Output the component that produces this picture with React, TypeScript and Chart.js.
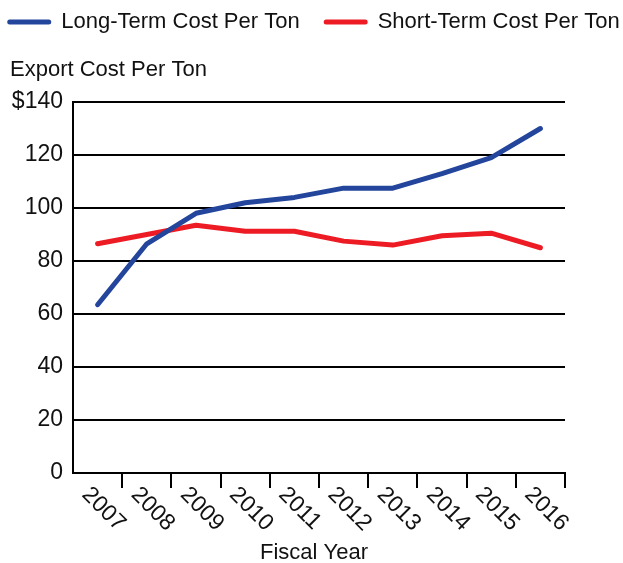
import React, { useEffect, useRef } from "react";
import { Chart, registerables } from "chart.js";

Chart.register(...registerables);

const years = ["2007", "2008", "2009", "2010", "2011", "2012", "2013", "2014", "2015", "2016"];
const longTerm = [63.5, 86.5, 98, 102, 104, 107.5, 107.5, 113, 119, 130];
const shortTerm = [86.5, 90, 93.5, 91.2, 91.2, 87.5, 86, 89.5, 90.5, 85];
const yTicks = [0, 20, 40, 60, 80, 100, 120, 140];

const FONT = "'Liberation Sans', Arial, sans-serif";
const BLUE = "#24459c";
const RED = "#ed1c24";

const customDraw = {
  id: "customDraw",
  afterDraw(chart: any) {
    const ctx = chart.ctx;
    ctx.save();
    // Legend
    ctx.font = `22px ${FONT}`;
    const lineW = 44;
    const gapText = 10;
    const gapItem = 24;
    const items = chart.data.datasets.map((d: any) => ({
      label: d.label,
      color: d.borderColor,
      w: lineW + gapText + ctx.measureText(d.label).width,
    }));
    const total = items.reduce((s: number, it: any) => s + it.w, 0) + gapItem * (items.length - 1);
    let x = 313.5 - total / 2;
    const ly = 22;
    items.forEach((it: any) => {
      ctx.strokeStyle = it.color;
      ctx.lineWidth = 5;
      ctx.lineCap = "round";
      ctx.beginPath();
      ctx.moveTo(x + 2.5, ly);
      ctx.lineTo(x + lineW - 2.5, ly);
      ctx.stroke();
      ctx.fillStyle = "#111";
      ctx.textAlign = "left";
      ctx.textBaseline = "middle";
      ctx.fillText(it.label, x + lineW + gapText, ly);
      x += it.w + gapItem;
    });
    // Y axis title
    ctx.fillText("Export Cost Per Ton", 10, 70);
    // X axis title
    ctx.textAlign = "center";
    ctx.fillText("Fiscal Year", 314, 553);
    // Rotated x labels
    const xs = chart.scales.x;
    ctx.font = `23px ${FONT}`;
    ctx.textAlign = "left";
    ctx.textBaseline = "top";
    years.forEach((lab, i) => {
      const px = xs.getPixelForValue(i);
      ctx.save();
      ctx.translate(px - 4, 483);
      ctx.rotate(Math.PI / 4);
      ctx.fillText(lab, 0, 0);
      ctx.restore();
    });
    ctx.restore();
  },
};

export default function App() {
  const ref = useRef<HTMLCanvasElement>(null);
  useEffect(() => {
    if (!ref.current) return;
    const chart = new Chart(ref.current, {
      type: "line",
      data: {
        labels: years,
        datasets: [
          {
            label: "Long-Term Cost Per Ton",
            data: longTerm,
            borderColor: BLUE,
            backgroundColor: BLUE,
            borderWidth: 5,
            borderCapStyle: "round",
            borderJoinStyle: "round",
            pointRadius: 0,
            tension: 0,
          },
          {
            label: "Short-Term Cost Per Ton",
            data: shortTerm,
            borderColor: RED,
            backgroundColor: RED,
            borderWidth: 5,
            borderCapStyle: "round",
            borderJoinStyle: "round",
            pointRadius: 0,
            tension: 0,
          },
        ],
      },
      options: {
        responsive: false,
        animation: false,
        layout: { padding: { top: 102, left: 10, right: 58, bottom: 0 } },
        plugins: {
          legend: { display: false },
          tooltip: { enabled: false },
          title: { display: false },
        },
        scales: {
          x: {
            offset: true,
            grid: {
              offset: true,
              drawOnChartArea: false,
              drawTicks: true,
              tickLength: 15,
              lineWidth: 2,
              color: (c: any) => (c.index === 0 ? "rgba(0,0,0,0)" : "#000"),
            },
            border: { display: true, color: "#000", width: 2 },
            ticks: { display: false },
            afterFit: (s: any) => {
              s.height = 90;
            },
          },
          y: {
            min: 0,
            max: 140,
            afterBuildTicks: (s: any) => {
              s.ticks = yTicks.map((v) => ({ value: v }));
            },
            grid: { color: "#000", lineWidth: 2, drawTicks: false },
            border: { display: true, color: "#000", width: 2 },
            ticks: {
              padding: 10,
              color: "#111",
              font: { family: FONT, size: 23 },
              callback: (v: any) => (v === 140 ? "$140" : String(v)),
            },
            afterFit: (s: any) => {
              s.width = 63;
            },
          },
        },
      },
      plugins: [customDraw],
    });
    return () => chart.destroy();
  }, []);
  return (
    <div style={{ position: "fixed", left: 0, top: 0, width: 623, height: 563, background: "#fff" }}>
      <canvas ref={ref} width={623} height={563} style={{ display: "block" }} />
    </div>
  );
}
